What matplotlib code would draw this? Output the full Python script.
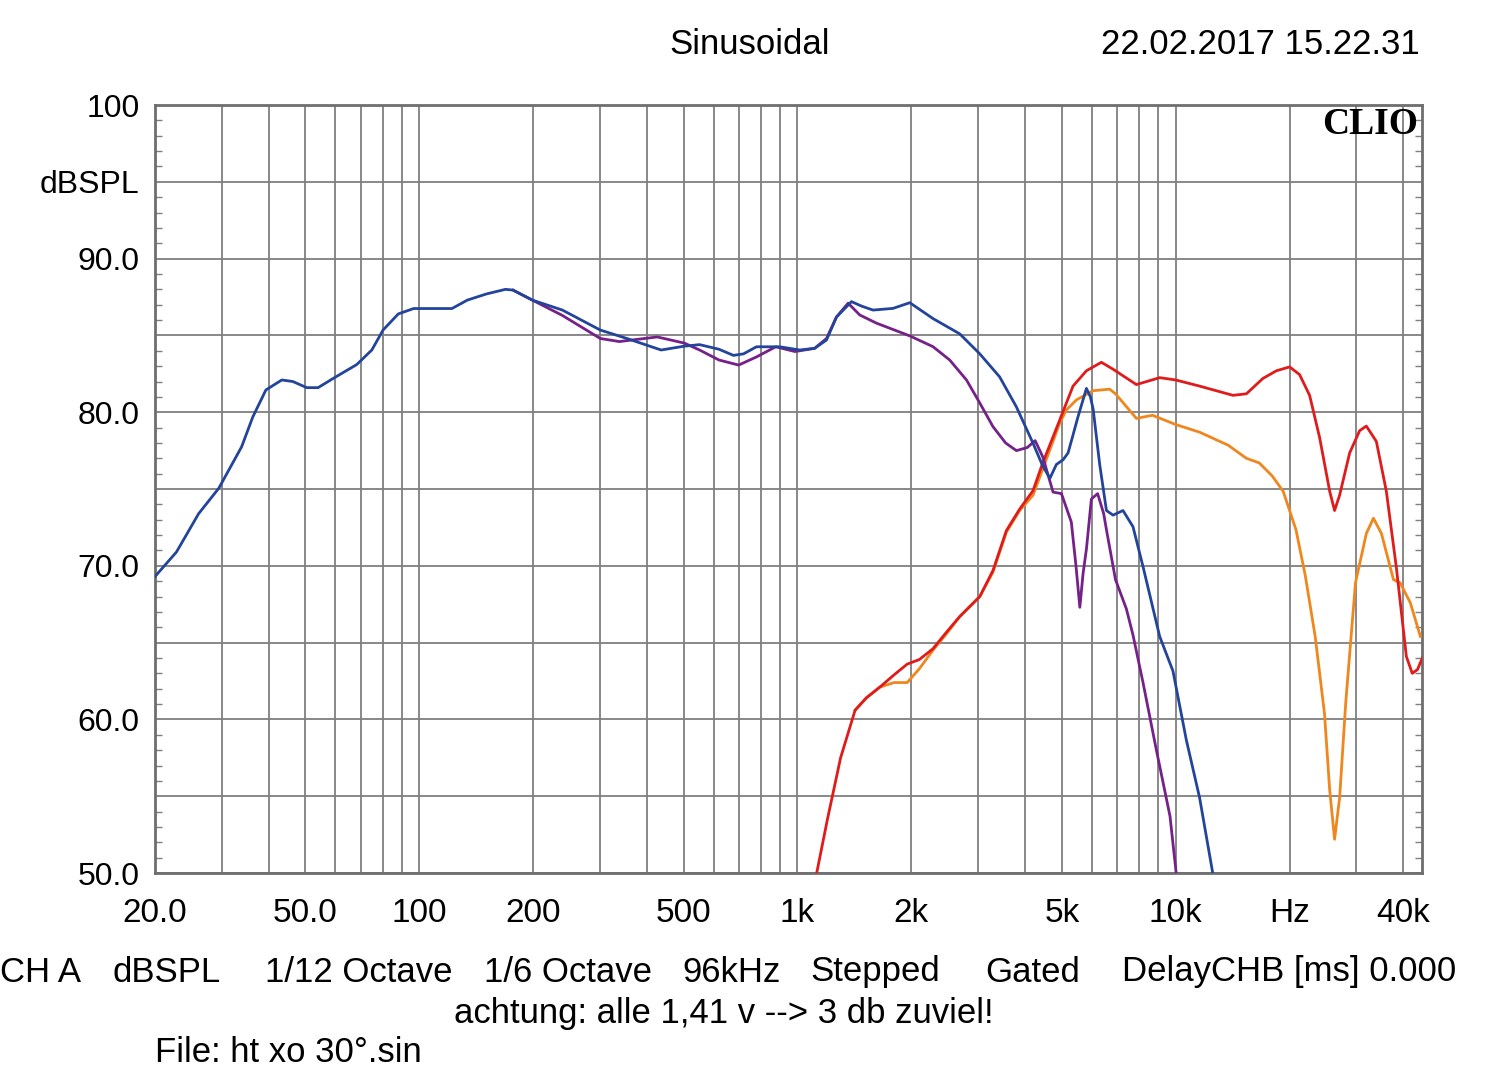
import matplotlib
matplotlib.use("Agg")
import matplotlib.pyplot as plt
import numpy as np

plt.rcParams['font.family'] = ['Liberation Sans', 'DejaVu Sans']

# woofer, on axis (blue)
blue_f = [20, 22.8, 26.1, 29.5, 33.9, 36.3, 39.3, 43.3, 46.3, 50.4, 54, 59.2, 68.3, 74.9,
          80.2, 88, 96.6, 108.9, 122, 134, 150.5, 169, 177, 199, 239, 301, 354, 436, 502,
          551, 620, 677, 720, 779, 898, 1014, 1110, 1193, 1268, 1389, 1480, 1584, 1789,
          1981, 2281, 2686, 3034, 3424, 3791, 4196, 4450, 4650, 4837, 5036, 5193, 5350,
          5516, 5808, 5950, 6050, 6296, 6560, 6830, 7256, 7710, 8196, 9072, 9836, 10672,
          11568, 12550, 13000]
blue_db = [69.3, 70.9, 73.4, 75.05, 77.75, 79.7, 81.45, 82.1, 82.0, 81.6, 81.6, 82.2, 83.1, 84.05,
           85.35, 86.4, 86.75, 86.75, 86.75, 87.3, 87.7, 88.0, 87.95, 87.3, 86.65, 85.35, 84.8, 84.05, 84.3,
           84.4, 84.1, 83.7, 83.8, 84.26, 84.26, 84.05, 84.16, 84.7, 86.2, 87.2, 86.9, 86.65, 86.76,
           87.13, 86.1, 85.1, 83.8, 82.3, 80.35, 77.98, 76.5, 75.7, 76.6, 76.9, 77.35, 78.5,
           79.7, 81.55, 81.0, 80.2, 76.6, 73.6, 73.3, 73.6, 72.55, 69.95, 65.4, 63.15, 58.65,
           54.9, 49.9, 48.0]

# woofer, 30 degrees (purple)
purple_f = [177, 199, 239, 301, 338, 379, 426, 502, 551, 620, 699, 779, 876, 985, 1110, 1193,
            1268, 1361, 1461, 1617, 1981, 2281, 2526, 2798, 3034, 3288, 3550, 3791, 4050, 4250,
            4451, 4740, 4988, 5297, 5452, 5579, 5690, 5808, 5985, 6217, 6450, 6560, 6932, 7406,
            7710, 8196, 8909, 9660, 10040, 10300]
purple_db = [87.95, 87.3, 86.3, 84.8, 84.6, 84.75, 84.9, 84.5, 84.05, 83.4, 83.07, 83.6, 84.26, 83.95, 84.16, 84.8,
             86.2, 87.1, 86.33, 85.8, 84.97, 84.27, 83.4, 82.1, 80.6, 79.06, 78.0, 77.5, 77.7, 78.15,
             77.1, 74.8, 74.7, 72.85, 69.95, 67.3, 69.5, 71.1, 74.35, 74.7, 73.4, 72.35, 69.1, 67.2,
             65.5, 62.4, 57.9, 53.7, 49.9, 48.0]

# tweeter, on axis (red)
red_f = [1090, 1124, 1200, 1300, 1420, 1520, 1650, 1800, 1950, 2100, 2281, 2500, 2686, 3034,
         3288, 3568, 3869, 4196, 4451, 4937, 5352, 5808, 6361, 6830, 7872, 9072, 10000, 11568,
         14170, 15380, 17010, 18470, 20010, 21260, 22600, 24020, 25540, 26310, 27130, 28840,
         30650, 31920, 33930, 36060, 38320, 40730, 42220, 43600, 44880]
red_db = [48.5, 50.0, 53.5, 57.5, 60.6, 61.4, 62.1, 62.9, 63.6, 63.9, 64.6, 65.8, 66.7, 68.0,
          69.7, 72.3, 73.7, 74.9, 76.7, 79.5, 81.7, 82.7, 83.25, 82.8, 81.8, 82.25, 82.1, 81.7,
          81.1, 81.2, 82.2, 82.7, 82.95, 82.45, 81.1, 78.35, 74.85, 73.6, 74.6, 77.35,
          78.8, 79.1, 78.1, 74.85, 69.9, 64.1, 63.0, 63.25, 64.0]

# tweeter, 30 degrees (orange)
orange_f = [1420, 1520, 1650, 1800, 1950, 2100, 2281, 2500, 2686, 3034, 3288, 3568, 3869, 4196,
            4451, 4937, 5140, 5464, 6044, 6690, 6932, 7872, 8683, 10000, 11568, 13770, 15380,
            16630, 18000, 19240, 20800, 22000, 23380, 24740, 25540, 26310, 27130, 28170, 29880,
            31920, 33330, 35000, 37660, 39200, 41710, 44370]
orange_db = [60.6, 61.4, 62.1, 62.4, 62.4, 63.3, 64.5, 65.7, 66.7, 68.0, 69.6, 72.2, 73.6, 74.6,
             76.3, 79.3, 80.15, 80.8, 81.4, 81.5, 81.2, 79.6, 79.8, 79.2, 78.7, 77.85, 77.0,
             76.7, 75.85, 74.85, 72.35, 69.4, 65.4, 60.4, 55.4, 52.2, 54.9, 61.15, 68.9,
             72.1, 73.1, 72.1, 69.1, 68.9, 67.6, 65.4]

x_grid = [30, 40, 50, 60, 70, 80, 90, 100, 200, 300, 400, 500, 600, 700, 800, 900,
          1000, 2000, 3000, 4000, 5000, 6000, 7000, 8000, 9000, 10000, 20000, 30000, 40000]
x_label_pos = [20, 50, 100, 200, 500, 1000, 2000, 5000, 10000, 20000, 40000]
x_labels = ['20.0', '50.0', '100', '200', '500', '1k', '2k', '5k', '10k', 'Hz', '40k']
y_ticks = [50, 55, 60, 65, 70, 75, 80, 85, 90, 95, 100]
y_labels = ['50.0', '', '60.0', '', '70.0', '', '80.0', '', '90.0', 'dBSPL', '100']

fig = plt.figure(figsize=(15, 10.86), dpi=100)
ax = fig.add_axes([0.1033, 0.1961, 0.8447, 0.7072])

ax.semilogx(orange_f, orange_db, color='#f0861e', lw=2, zorder=3)
ax.semilogx(red_f, red_db, color='#e01b1b', lw=2, zorder=4)
ax.semilogx(purple_f, purple_db, color='#76208a', lw=2, zorder=5)
ax.semilogx(blue_f, blue_db, color='#22449a', lw=2, zorder=6)

ax.set_xlim(20, 44800)
ax.set_ylim(50, 100)

grid_col = '#7f7f7f'
for xv in x_grid:
    ax.axvline(xv, color=grid_col, lw=1.3, zorder=1)
ax.set_xticks(x_label_pos)
ax.set_xticklabels(x_labels)
ax.xaxis.set_minor_locator(matplotlib.ticker.NullLocator())
ax.tick_params(axis='x', length=0, pad=18, labelsize=24)

ax.set_yticks(y_ticks)
ax.set_yticklabels(y_labels)
ax.set_yticks(np.arange(50, 101, 1), minor=True)
ax.yaxis.grid(True, which='major', color=grid_col, lw=1.3)
ax.tick_params(axis='y', which='major', length=0, pad=11, labelsize=23)
ax.tick_params(axis='y', which='minor', direction='in', length=5, width=1,
               color=grid_col, left=True, right=True)
for s in ax.spines.values():
    s.set_color('#6e6e6e')
    s.set_linewidth(2)

ax.text(0.997, 0.997, 'CLIO', transform=ax.transAxes, ha='right', va='top',
        fontsize=27, fontweight='bold', family='Liberation Serif', zorder=10)

fig.text(750 / 1500, 1 - 45 / 1086, 'Sinusoidal', ha='center', va='center', fontsize=25)
fig.text(1420 / 1500, 1 - 45 / 1086, '22.02.2017 15.22.31', ha='right', va='center', fontsize=25)

footer = [(0, 'CH A'), (113, 'dBSPL'), (265, '1/12 Octave'), (484, '1/6 Octave'),
          (682, '96kHz'), (810, 'Stepped'), (985, 'Gated'), (1122, 'DelayCHB [ms] 0.000')]
for xp, t in footer:
    fig.text(xp / 1500, 1 - 972 / 1086, t, ha='left', va='center', fontsize=25)
fig.text(724 / 1500, 1 - 1013 / 1086, 'achtung: alle 1,41 v --> 3 db zuviel!',
         ha='center', va='center', fontsize=25)
fig.text(155 / 1500, 1 - 1052 / 1086, 'File: ht xo 30°.sin', ha='left', va='center', fontsize=25)

fig.savefig('out.png', dpi=100, facecolor='white')
